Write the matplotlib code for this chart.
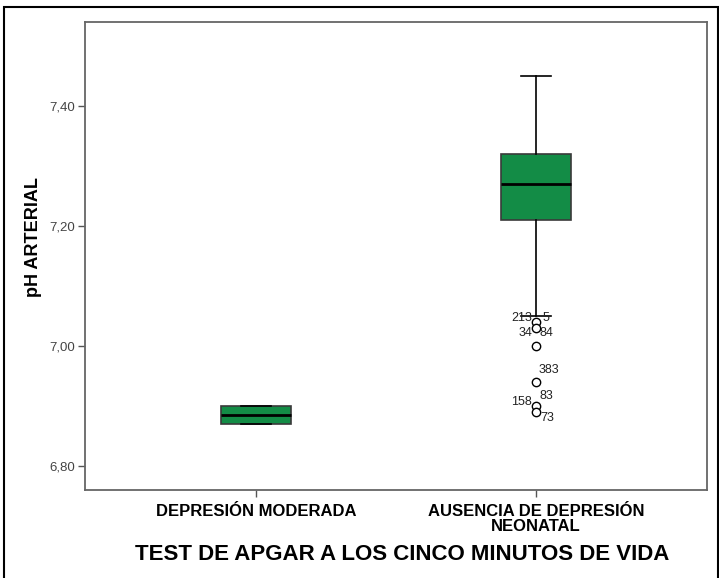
import matplotlib.pyplot as plt
from matplotlib.patches import Rectangle

plt.rcParams['font.family'] = ['Liberation Sans', 'DejaVu Sans']

# boxplot summary
groups = ["DEPRESIÓN MODERADA", "AUSENCIA DE DEPRESIÓN\nNEONATAL"]
q1 = [6.87, 7.21]
median = [6.885, 7.27]
q3 = [6.90, 7.32]
whis_lo = [6.87, 7.05]
whis_hi = [6.90, 7.45]

# outliers of the second group
outlier_vals = [7.04, 7.03, 7.00, 6.94, 6.90, 6.89]

# case labels next to outliers
label_vals = [7.04, 7.04, 7.03, 7.03, 6.94, 6.90, 6.90, 6.89]
label_txt = ["213", "5", "34", "84", "383", "83", "158", "73"]

# where each label sits relative to its point (pixels, y up)
label_dx = [-4, 7, -4, 4, 3, 4, -4, 4]
label_dy = [4, 4, -5, -5, 12, 10, 4, -6]

yticks = [6.80, 7.00, 7.20, 7.40]

fig = plt.figure(figsize=(7.19, 5.78), dpi=100)
ax = fig.add_axes([85 / 719, 1 - 490 / 578, 622 / 719, 468 / 578])

stats = []
for i in range(len(groups)):
    stats.append({
        "q1": q1[i], "med": median[i], "q3": q3[i],
        "whislo": whis_lo[i], "whishi": whis_hi[i],
        "fliers": outlier_vals if i == 1 else [],
    })

ax.bxp(stats, positions=[1, 2], widths=0.25, patch_artist=True,
       boxprops=dict(facecolor="#138c46", edgecolor="#3a3a3a", linewidth=1.2),
       medianprops=dict(color="black", linewidth=2),
       whiskerprops=dict(color="black", linewidth=1.2),
       capprops=dict(color="black", linewidth=1.2),
       capwidths=0.11,
       flierprops=dict(marker="o", markersize=6, markerfacecolor="white",
                       markeredgecolor="black", markeredgewidth=1.0))

for v, t, dx, dy in zip(label_vals, label_txt, label_dx, label_dy):
    ax.annotate(t, (2, v), xytext=(dx * 0.72, dy * 0.72),
                textcoords="offset points",
                ha="right" if dx < 0 else "left", va="center",
                fontsize=9, color="#222222")

ax.set_xlim(1 - 171 / 280, 2 + 171 / 280)
ax.set_ylim(6.76, 7.54)
ax.set_yticks(yticks)
ax.set_yticklabels([f"{v:.2f}".replace(".", ",") for v in yticks],
                   fontsize=9.5, color="#444444")
ax.set_xticks([1, 2])
ax.set_xticklabels(groups, fontsize=12, fontweight="bold", linespacing=1.0)
ax.tick_params(axis="x", length=5, width=1, color="#555555", pad=5)
ax.tick_params(axis="y", length=5, width=1, color="#555555", pad=2)

for sp in ax.spines.values():
    sp.set_color("#666666")
    sp.set_linewidth(1.3)

ax.set_ylabel("pH ARTERIAL", fontsize=13, fontweight="bold")
ax.yaxis.set_label_coords((42 - 85) / 622, (490 - 237) / 468)
fig.text(402 / 719, 1 - 554 / 578, "TEST DE APGAR A LOS CINCO MINUTOS DE VIDA",
         ha="center", va="center", fontsize=16, fontweight="bold")

# outer frame around the whole chart
fig.patches.append(Rectangle((4 / 719, -0.01), 714 / 719, 1 - 7 / 578 + 0.01,
                             transform=fig.transFigure, fill=False,
                             edgecolor="black", linewidth=1.5))

fig.savefig("out.png", dpi=100)
